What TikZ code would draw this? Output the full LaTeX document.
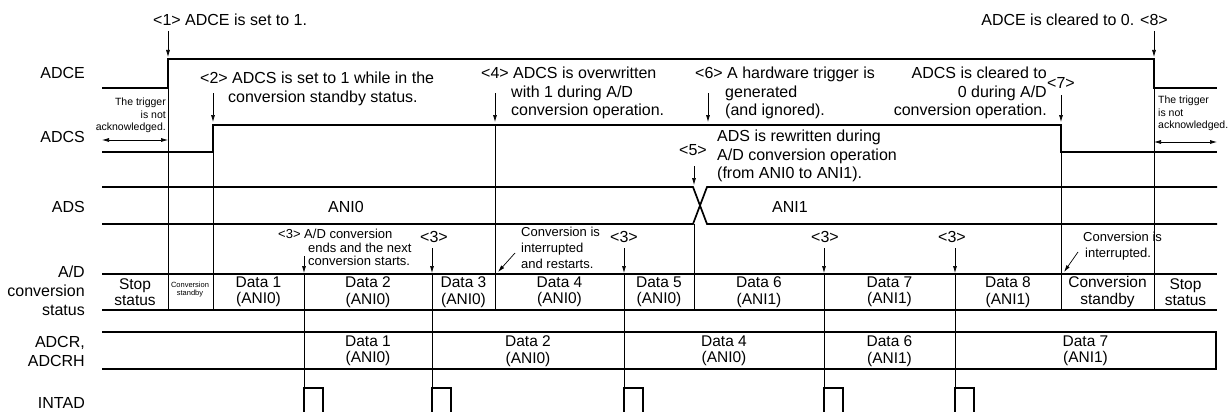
\documentclass[tikz,border=0pt]{standalone}
\usepackage{fontspec}
\setmainfont{Liberation Sans}
\usetikzlibrary{arrows.meta}

\begin{document}
\begin{tikzpicture}[
    x=1pt, y=-1pt,
    sig/.style={line width=1.7pt},
    guide/.style={line width=0.7pt},
    arrow/.style={line width=0.7pt, -{Latex[length=7pt,width=4pt]}},
    twoway/.style={line width=0.7pt, {Latex[length=7pt,width=4pt]}-{Latex[length=7pt,width=4pt]}},
    lbl/.style={anchor=east, align=right, inner sep=0pt,
                font=\fontsize{16}{19}\selectfont},
    note/.style={align=left, inner sep=0pt,
                 font=\fontsize{16}{18.5}\selectfont},
    small/.style={align=left, inner sep=0pt,
                  font=\fontsize{13}{16}\selectfont},
    tiny/.style={inner sep=0pt, font=\fontsize{10.5}{12.5}\selectfont},
    cell/.style={align=center, inner sep=0pt,
                 font=\fontsize{15.5}{16.5}\selectfont}]
  \useasboundingbox (0,0) rectangle (1229,412);

  % signal names
  \node[lbl] (nadce) at (85,73) {ADCE};
  \node[lbl] (nadcs) at (85,137) {ADCS};
  \node[lbl] (nads) at (85,207) {ADS};
  \node[lbl] (nstat) at (85,291) {A/D\\conversion\\status};
  \node[lbl] (nadcr) at (85,351) {ADCR,\\ADCRH};
  \node[lbl] (nint) at (85,403) {INTAD};

  % waveforms
  \draw[sig] (102,88) -- (168,88) -- (168,59) -- (1154,59) -- (1154,88) -- (1217,88);
  \draw[sig] (102,152) -- (213,152) -- (213,125) -- (1061,125) -- (1061,152) -- (1217,152);
  \draw[sig] (102,187) -- (693,187) -- (707,224) -- (1217,224);
  \draw[sig] (102,224) -- (693,224) -- (707,187) -- (1217,187);
  \draw[sig] (102,274) -- (1217,274) (102,310) -- (1217,310);
  \draw[sig] (102,332) -- (1216,332) -- (1216,369) -- (102,369);

  % edges carried down
  \draw[guide] (168,88) -- (168,310);
  \draw[guide] (213,152) -- (213,310);
  \draw[guide] (495,125) -- (495,310);
  \draw[guide] (694,224) -- (694,310);
  \draw[guide] (1061,152) -- (1061,310);
  \draw[guide] (1154,88) -- (1154,310);

  % end of conversion: result stored, INTAD pulse
  \foreach \x in {304,432,624,824,955} {
    \draw[guide] (\x,274) -- (\x,412);
    \draw[sig] (\x,412) -- (\x,388) -- (\x+19,388) -- (\x+19,412);
  }

  \node[note] (ani0) at (346,207) {ANI0};
  \node[note] (ani1) at (790,207) {ANI1};

  % A/D conversion status
  \foreach \a/\b/\txt [count=\i] in {102/168/{Stop\\status}, 213/304/{Data 1\\(ANI0)},
      304/432/{Data 2\\(ANI0)}, 432/495/{Data 3\\(ANI0)}, 495/624/{Data 4\\(ANI0)},
      624/694/{Data 5\\(ANI0)}, 694/824/{Data 6\\(ANI1)}, 824/955/{Data 7\\(ANI1)},
      955/1061/{Data 8\\(ANI1)}, 1061/1154/{Conversion\\standby}, 1154/1217/{Stop\\status}}
    \node[cell] (st\i) at ({(\a+\b)/2},292) {\txt};
  \node[align=center, inner sep=0pt, font=\fontsize{7.5}{8}\selectfont] (stby) at (190,290) {Conversion\\standby};

  % ADCR, ADCRH
  \foreach \a/\b/\txt [count=\i] in {304/432/{Data 1\\(ANI0)}, 432/624/{Data 2\\(ANI0)},
      624/824/{Data 4\\(ANI0)}, 824/955/{Data 6\\(ANI1)}, 955/1216/{Data 7\\(ANI1)}}
    \node[cell] (cr\i) at ({(\a+\b)/2},351) {\txt};

  % notes
  \node[note, anchor=north west] (n1) at (153,14) {<1> ADCE is set to 1.};
  \draw[arrow] (168,31) -- (168,57);
  \node[note, anchor=north east] (n8) at (1168,14) {ADCE is cleared to 0. <8>};
  \draw[arrow] (1154,31) -- (1154,57);

  \node[note, anchor=north west] (n2) at (200,72)
    {<2> ADCS is set to 1 while in the\\\hspace*{28pt}conversion standby status.};
  \draw[arrow] (213,93) -- (213,122);
  \node[note, anchor=north west] (n4) at (481,67)
    {<4> ADCS is overwritten\\\hspace*{30pt}with 1 during A/D\\\hspace*{30pt}conversion operation.};
  \draw[arrow] (495,93) -- (495,122);
  \node[note, anchor=north west] (n6) at (695,67)
    {<6> A hardware trigger is\\\hspace*{30pt}generated\\\hspace*{30pt}(and ignored).};
  \draw[arrow] (708,93) -- (708,122);
  \node[note, align=right, anchor=north east] (n7) at (1047,67)
    {ADCS is cleared to\\0 during A/D\\conversion operation.};
  \node[note] (n7k) at (1061,83) {<7>};
  \draw[arrow] (1061,95) -- (1061,122);

  \node[note] (n5k) at (693,150) {<5>};
  \node[note, anchor=north west] (n5) at (717,130)
    {ADS is rewritten during\\A/D conversion operation\\(from ANI0 to ANI1).};
  \draw[arrow] (694,166) -- (694,185);

  \node[small, anchor=north west, font=\fontsize{13}{13.5}\selectfont] (n3) at (278,229)
    {<3> A/D conversion\\\hspace*{30pt}ends and the next\\\hspace*{30pt}conversion starts.};
  \draw[arrow] (304,256) -- (304,273);
  \foreach \x/\lx in {432/434, 624/624, 824/825, 955/952} {
    \node[note] (k\x) at (\lx,237) {<3>};
    \draw[arrow] (\x,248) -- (\x,273);
  }

  \node[small, anchor=north west] (nrs) at (521,227)
    {Conversion is\\interrupted\\and restarts.};
  \draw[arrow] (515,253) -- (498,272);
  \node[small, anchor=north west] (nint2) at (1083,232)
    {Conversion is\\\hspace*{2pt}interrupted.};
  \draw[arrow] (1078,252) -- (1064,272);

  % trigger not acknowledged
  \node[tiny, align=right, anchor=north east] (tl) at (166,98) {The trigger\\is not\\acknowledged.};
  \draw[twoway] (102,140) -- (168,140);
  \node[tiny, align=left, anchor=north west] (tr) at (1158,96) {The trigger\\is not\\acknowledged.};
  \draw[twoway] (1154,142) -- (1217,142);
\end{tikzpicture}
\end{document}
